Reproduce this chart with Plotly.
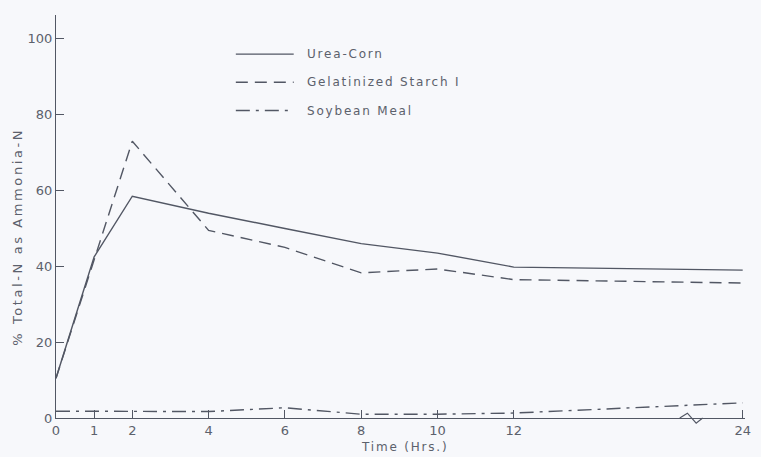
import plotly.graph_objects as go

# Sampling times (hours) and % of total N present as ammonia-N
hours = [0, 1, 2, 4, 6, 8, 10, 12, 24]
urea_corn = [10.5, 42.5, 58.5, 54.0, 50.0, 46.0, 43.5, 39.8, 39.0]
gel_starch = [10.5, 42.0, 73.0, 49.5, 45.0, 38.3, 39.3, 36.5, 35.6]
soybean_meal = [1.8, 1.8, 1.8, 1.7, 2.7, 1.0, 1.0, 1.3, 4.0]

tick_hours = [0, 1, 2, 4, 6, 8, 10, 12, 24]
y_ticks = [0, 20, 40, 60, 80, 100]

series_names = ["Urea-Corn", "Gelatinized Starch I", "Soybean Meal"]
series_dash = ["solid", "12px,7px", "14px,6px,3px,6px"]

INK = "#525764"
TEXT = "#5c616c"
BG = "#f7f8fb"
FONT = "DejaVu Sans"


def axis_pos(h):
    """Hours past 12 are drawn at half scale (broken axis)."""
    return h if h <= 12 else 12 + (h - 12) / 2.0


def spaced(text, px):
    return '<span style="letter-spacing:%spx">%s</span>' % (px, text)


xpos = [axis_pos(h) for h in hours]

fig = go.Figure()
for name, values, dash in zip(series_names, [urea_corn, gel_starch, soybean_meal], series_dash):
    fig.add_trace(go.Scatter(
        x=xpos, y=values, mode="lines", name=name,
        line=dict(color=INK, width=1.4, dash=dash),
        showlegend=False,
    ))

# Zig-zag break on the time axis between 12 and 24 h
fig.add_shape(type="path", xref="x", yref="paper",
              path="M 16.35,0 L 16.55,0.012 L 16.78,-0.013 L 16.95,0",
              line=dict(color=INK, width=1.2))

# Hand-drawn style legend
legend_y = [0.903, 0.833, 0.763]
for name, dash, ly in zip(series_names, series_dash, legend_y):
    fig.add_shape(type="line", xref="paper", yref="paper",
                  x0=0.261, x1=0.345, y0=ly, y1=ly,
                  line=dict(color=INK, width=1.4, dash=dash))
    fig.add_annotation(xref="paper", yref="paper", x=0.362, y=ly,
                       text=spaced(name, 1.8), showarrow=False,
                       xanchor="left", yanchor="middle",
                       font=dict(family=FONT, size=12, color=TEXT))

fig.add_annotation(xref="paper", yref="paper", x=0.506, y=-0.071,
                   text=spaced("Time (Hrs.)", 1.8), showarrow=False,
                   xanchor="center", yanchor="middle",
                   font=dict(family=FONT, size=12, color=TEXT))
fig.add_annotation(xref="paper", yref="paper", x=-0.055, y=0.45,
                   text=spaced("% Total-N as Ammonia-N", 2.6), showarrow=False,
                   textangle=-90, xanchor="center", yanchor="middle",
                   font=dict(family=FONT, size=13, color=TEXT))

fig.update_layout(
    width=761, height=457,
    margin=dict(l=56, r=10, t=15, b=39),
    paper_bgcolor=BG, plot_bgcolor=BG,
    font=dict(family=FONT, color=TEXT, size=13),
    xaxis=dict(
        range=[0, 18.06], tickvals=[axis_pos(h) for h in tick_hours],
        ticktext=[str(h) for h in tick_hours],
        showgrid=False, zeroline=False, showline=True, linecolor=INK, linewidth=1.3,
        ticks="inside", ticklen=8, tickcolor=INK, tickwidth=1.2,
        tickfont=dict(family=FONT, size=13, color=TEXT),
    ),
    yaxis=dict(
        range=[0, 106.3], tickvals=y_ticks,
        showgrid=False, zeroline=False, showline=True, linecolor=INK, linewidth=1.3,
        ticks="inside", ticklen=8, tickcolor=INK, tickwidth=1.2,
        tickfont=dict(family=FONT, size=13, color=TEXT),
    ),
)

fig.write_html("out.html")
